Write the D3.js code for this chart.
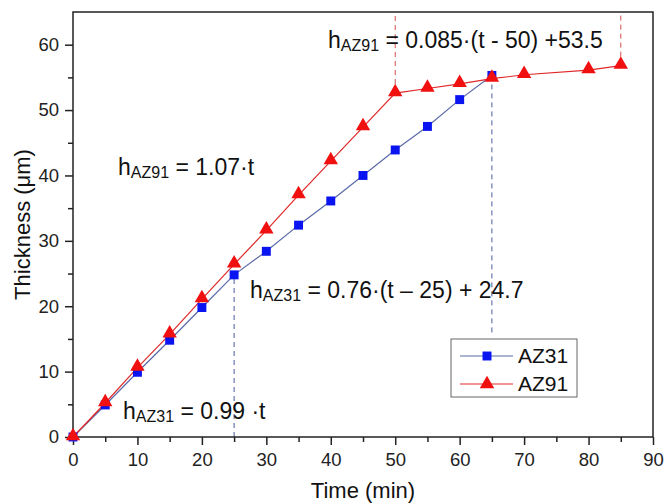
<!DOCTYPE html>
<html lang="en">
<head>
<meta charset="UTF-8">
<title>Thickness vs Time</title>
<script src="https://d3js.org/d3.v7.min.js"></script>
<style>
    body { margin: 0; background: white; font-family: "Liberation Sans", Arial, sans-serif; }
    .tick text { font-family: "Liberation Sans", Arial, sans-serif; }
</style>
</head>
<body>
<svg width="665" height="504"></svg>
<script>
// data
const times31 = [0, 5, 10, 15, 20, 25, 30, 35, 40, 45, 50, 55, 60, 65];
const az31 = [0, 4.9, 9.9, 14.8, 19.8, 24.8, 28.4, 32.4, 36.1, 40.0, 43.9, 47.5, 51.6, 55.3];
const times91 = [0, 5, 10, 15, 20, 25, 30, 35, 40, 45, 50, 55, 60, 65, 70, 80, 85];
const az91 = [0, 5.2, 10.6, 15.7, 21.1, 26.4, 31.6, 37.0, 42.2, 47.4, 52.6, 53.3, 54.0, 54.8, 55.4, 56.1, 56.8];
const xTicks = [0, 10, 20, 30, 40, 50, 60, 70, 80, 90];
const yTicks = [0, 10, 20, 30, 40, 50, 60];

const svg = d3.select("svg");
const margin = { top: 12, right: 12, bottom: 67, left: 73 };
const width = 665 - margin.left - margin.right;
const height = 504 - margin.top - margin.bottom;
const g = svg.append("g").attr("transform", `translate(${margin.left},${margin.top})`);

const x = d3.scaleLinear().domain([0, 90]).range([0, width]);
const y = d3.scaleLinear().domain([0, 65]).range([height, 0]);

const s31 = times31.map((t, i) => ({ t: t, v: az31[i] }));
const s91 = times91.map((t, i) => ({ t: t, v: az91[i] }));

// dashed guide lines
const guides = [
    { t: 25, y1: 0, y2: 24.8, color: "#4a5a9a" },
    { t: 65, y1: 16, y2: 55.3, color: "#4a5a9a" },
    { t: 50, y1: 52.6, y2: 65, color: "#d05050" },
    { t: 85, y1: 56.8, y2: 65, color: "#d05050" }
];
g.selectAll(".guide").data(guides).enter().append("line")
    .attr("x1", d => x(d.t)).attr("x2", d => x(d.t))
    .attr("y1", d => y(d.y1)).attr("y2", d => y(d.y2))
    .attr("stroke", d => d.color)
    .attr("stroke-width", 1)
    .attr("stroke-dasharray", "5,4");

// axes
const minorX = d3.range(5, 90, 10);
const minorY = d3.range(5, 65, 10);

g.append("g").attr("transform", `translate(0,${height})`)
    .call(d3.axisBottom(x).tickValues(minorX).tickSize(5).tickFormat(""))
    .call(a => a.select(".domain").remove());
g.append("g").attr("transform", `translate(0,${height})`)
    .call(d3.axisBottom(x).tickValues(xTicks).tickSize(8).tickPadding(8))
    .call(a => a.selectAll("text").attr("font-size", 18.5).attr("fill", "#222"))
    .call(a => a.select(".domain").remove());

g.append("g")
    .call(d3.axisLeft(y).tickValues(minorY).tickSize(5).tickFormat(""))
    .call(a => a.select(".domain").remove());
g.append("g")
    .call(d3.axisLeft(y).tickValues(yTicks).tickSize(8).tickPadding(6))
    .call(a => a.selectAll("text").attr("font-size", 18.5).attr("fill", "#222"))
    .call(a => a.select(".domain").remove());

g.selectAll(".tick line").attr("stroke-width", 1.5).attr("stroke", "#222");

// frame
g.append("rect")
    .attr("x", 0).attr("y", 0)
    .attr("width", width).attr("height", height)
    .attr("fill", "none").attr("stroke", "#222").attr("stroke-width", 1.5);

// lines
const line = d3.line().x(d => x(d.t)).y(d => y(d.v));
g.append("path").datum(s31).attr("d", line)
    .attr("fill", "none").attr("stroke", "#5b6aa8").attr("stroke-width", 1.2);
g.append("path").datum(s91).attr("d", line)
    .attr("fill", "none").attr("stroke", "#e02828").attr("stroke-width", 1.2);

// markers
const sq = d3.symbol().type(d3.symbolSquare).size(80);
const tri = d3.symbol().type(d3.symbolTriangle).size(90);
g.selectAll(".m31").data(s31).enter().append("path")
    .attr("d", sq)
    .attr("transform", d => `translate(${x(d.t)},${y(d.v)})`)
    .attr("fill", "#0a14f0");
g.selectAll(".m91").data(s91).enter().append("path")
    .attr("d", tri)
    .attr("transform", d => `translate(${x(d.t)},${y(d.v) - 1})`)
    .attr("fill", "#f01010");

// equations
function eq(px, py, sub, rest) {
    const t = svg.append("text").attr("x", px).attr("y", py)
        .attr("font-size", 23).attr("fill", "#111");
    t.append("tspan").text("h");
    t.append("tspan").attr("font-size", 16).attr("dy", 3).text(sub);
    t.append("tspan").attr("dy", -3).text(rest);
}
eq(328, 48, "AZ91", " = 0.085\u00b7(t - 50) +53.5");
eq(118, 175, "AZ91", " = 1.07\u00b7t");
eq(250, 298, "AZ31", " = 0.76\u00b7(t \u2013 25) + 24.7");
eq(123, 419, "AZ31", " = 0.99 \u00b7t");

// axis titles
svg.append("text")
    .attr("x", margin.left + width / 2).attr("y", 498)
    .attr("text-anchor", "middle").attr("font-size", 22).attr("fill", "#111")
    .text("Time (min)");
svg.append("text")
    .attr("transform", `translate(30,${margin.top + height / 2}) rotate(-90)`)
    .attr("text-anchor", "middle").attr("font-size", 22).attr("fill", "#111")
    .text("Thickness (\u03bcm)");

// legend
const legend = svg.append("g").attr("transform", "translate(451,339)");
legend.append("rect")
    .attr("width", 126).attr("height", 58)
    .attr("fill", "white").attr("stroke", "#666").attr("stroke-width", 1);
const items = [
    { name: "AZ31", line: "#5b6aa8", fill: "#0a14f0", sym: sq, yy: 17 },
    { name: "AZ91", line: "#e02828", fill: "#f01010", sym: tri, yy: 45 }
];
items.forEach(it => {
    legend.append("line").attr("x1", 9).attr("x2", 62)
        .attr("y1", it.yy).attr("y2", it.yy)
        .attr("stroke", it.line).attr("stroke-width", 1.2);
    legend.append("path").attr("d", it.sym)
        .attr("transform", `translate(36,${it.yy})`).attr("fill", it.fill);
    legend.append("text").attr("x", 67).attr("y", it.yy + 7)
        .attr("font-size", 21).attr("fill", "#111").text(it.name);
});
</script>
</body>
</html>
